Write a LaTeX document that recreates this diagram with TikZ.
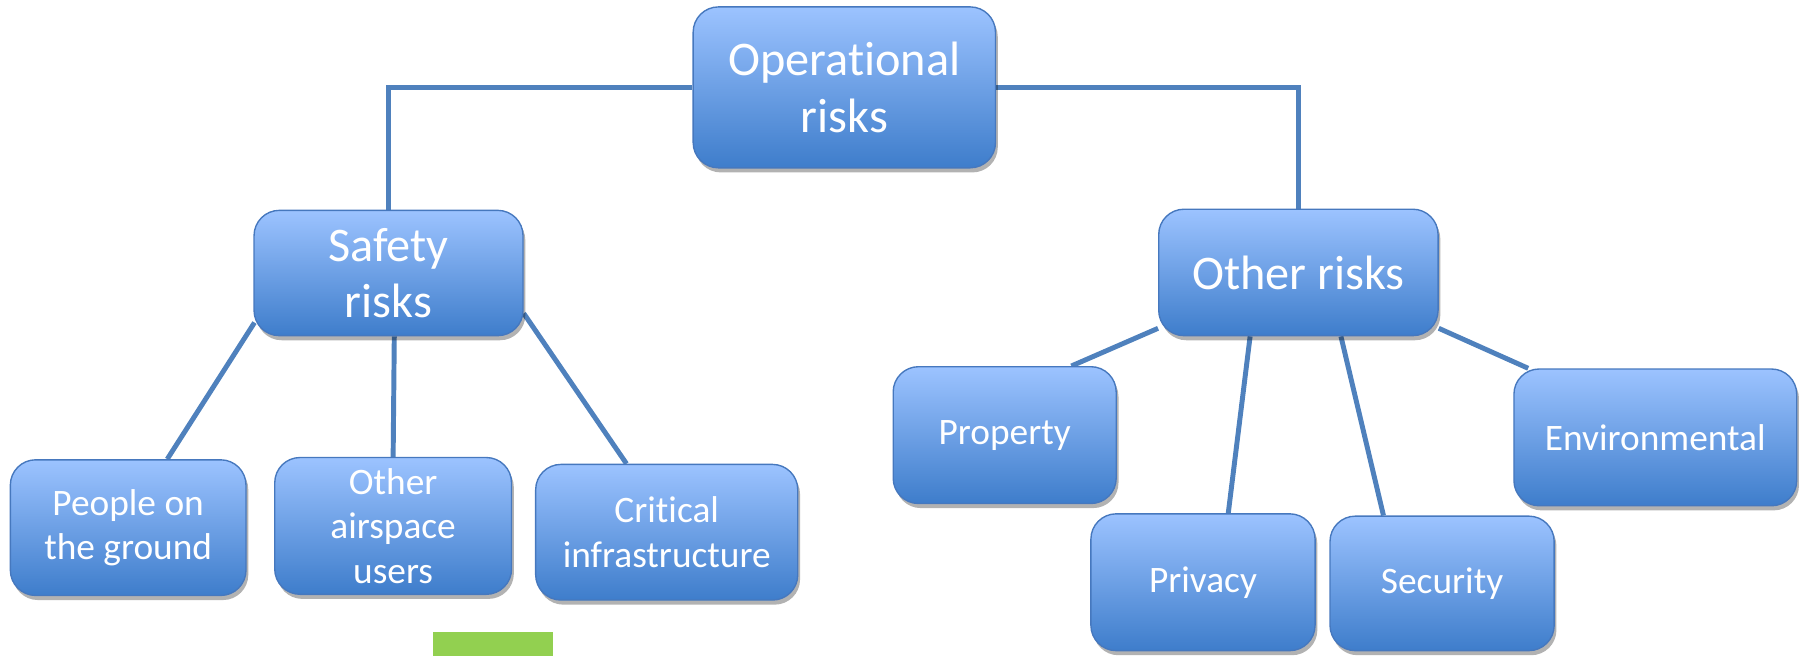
\documentclass[tikz,border=0pt]{standalone}
\usepackage{fontspec}
\setmainfont{Carlito}[Ligatures=NoCommon]
\usetikzlibrary{shadows,calc,backgrounds}
\definecolor{boxtop}{RGB}{156,195,255}
\definecolor{boxbot}{RGB}{62,125,203}
\definecolor{boxedge}{RGB}{70,120,190}
\definecolor{linkc}{RGB}{79,129,189}
\definecolor{greenc}{RGB}{146,208,80}
\begin{document}
\begin{tikzpicture}[x=1pt,y=-1pt,
 box/.style={rectangle, rounded corners=22pt, draw=boxedge, line width=1.2pt, top color=boxtop, bottom color=boxbot, text=white, align=center, inner sep=0pt, drop shadow={shadow xshift=2pt, shadow yshift=-4pt, opacity=0.3, fill=black}},
 big/.style={font=\fontsize{42}{49}\selectfont},
 small/.style={font=\fontsize{32.5}{38.5}\selectfont},
 link/.style={draw=linkc, line width=4.3pt}]
\useasboundingbox (0,0) rectangle (1565,570);

\node[box,big,minimum width=263pt,minimum height=140pt] (op) at (734.5,76) {Operational\\risks};
\node[box,big,minimum width=234pt,minimum height=109pt] (safety) at (338,237.5) {Safety\\risks};
\node[box,big,minimum width=243pt,minimum height=110pt] (other) at (1129.5,237) {Other risks};

\node[box,small,minimum width=205pt,minimum height=118pt] (people) at (111.5,459) {People on\\the ground};
\node[box,small,minimum width=206pt,minimum height=119pt] (airspace) at (342,457.5) {Other\\airspace\\users};
\node[box,small,minimum width=228pt,minimum height=118pt] (critical) at (580,463) {Critical\\infrastructure};

\node[box,small,minimum width=194pt,minimum height=119pt] (property) at (874,378.5) {Property};
\node[box,small,minimum width=195pt,minimum height=119pt] (privacy) at (1046.5,506.5) {Privacy};
\node[box,small,minimum width=195pt,minimum height=117pt] (security) at (1254.5,507.5) {Security};
\node[box,small,minimum width=246pt,minimum height=119pt] (env) at (1440,380.5) {Environmental};

\node[fill=greenc, minimum width=104pt, minimum height=22pt, inner sep=0pt] (green) at (429,561) {};

\begin{pgfonlayer}{background}
\draw[link] (op.west) -| (safety.north);
\draw[link] (op.east) -| (other.north);
\draw[link] ($(safety.south west)+(1,-12)$) -- ($(people.north)+(34,0)$);
\draw[link] ($(safety.south)+(5,0)$) -- (airspace.north);
\draw[link] ($(safety.south east)+(0,-20)$) -- ($(critical.north)+(-35,0)$);
\draw[link] ($(other.south west)+(0,-7)$) -- ($(property.north)+(58,0)$);
\draw[link] ($(other.south)+(-42,0)$) -- ($(privacy.north)+(22,0)$);
\draw[link] ($(other.south)+(37,0)$) -- ($(security.north)+(-51,0)$);
\draw[link] ($(other.south east)+(0,-7)$) -- ($(env.north west)+(13,0)$);
\end{pgfonlayer}
\end{tikzpicture}
\end{document}
